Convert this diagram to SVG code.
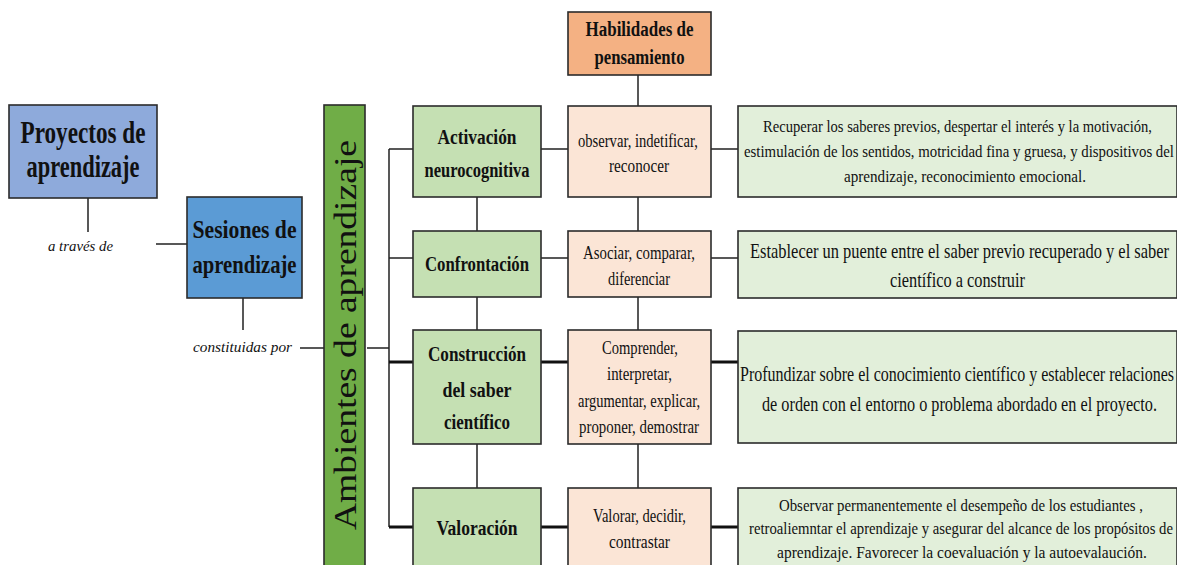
<svg xmlns="http://www.w3.org/2000/svg" width="1177" height="565" viewBox="0 0 1177 565">
<style>
text{font-family:"Liberation Serif","Times New Roman",serif;fill:#111;}
.bx{stroke:#2b2b2b;stroke-width:1.6;}
.b{font-weight:bold;}
.i{font-style:italic;font-size:15px;}
.m{text-anchor:middle;}
.c{stroke:#222;stroke-width:1.5;fill:none;}
.k{stroke:#111;stroke-width:3;fill:none;}
.p{font-size:18px;}
.g{font-size:20px;}
.r1{font-size:17px;}
.r2{font-size:21px;}
</style>
<rect width="1177" height="565" fill="#ffffff"/>
<g id="connectors">
<path class="c" d="M88 198V232M156 244H187M243 298V330M300 348H325M367 348H389M389 149V527"/>
<path class="c" d="M638 75V106M477 197V231M477 297V330M477 444V488M638 197V231M638 297V330M638 444V488"/>
<path class="c" d="M389 149H413M541 149H568M711 149H738M389 258H413M541 258H568M711 258H738"/>
<path class="k" d="M389 362H413M541 362H568M711 362H738M389 527H413M541 527H568M711 527H738"/>
</g>
<g id="proyectos">
<rect class="bx" x="9" y="105" width="148" height="93" fill="#8eaadb"/>
<text class="b m" x="83" y="143" font-size="31" textLength="125" lengthAdjust="spacingAndGlyphs">Proyectos de</text>
<text class="b m" x="83" y="177" font-size="31" textLength="113" lengthAdjust="spacingAndGlyphs">aprendizaje</text>
</g>
<g id="label-a-traves">
<text class="i" x="48" y="251" textLength="65" lengthAdjust="spacingAndGlyphs">a través de</text>
</g>
<g id="sesiones">
<rect class="bx" x="187" y="197" width="115" height="101" fill="#5b9bd5"/>
<text class="b m" x="244.5" y="238" font-size="26" textLength="104" lengthAdjust="spacingAndGlyphs">Sesiones de</text>
<text class="b m" x="244.5" y="273" font-size="26" textLength="104" lengthAdjust="spacingAndGlyphs">aprendizaje</text>
</g>
<g id="label-constituidas">
<text class="i" x="193" y="352" textLength="99" lengthAdjust="spacingAndGlyphs">constituidas por</text>
</g>
<g id="ambientes">
<rect class="bx" x="324" y="105" width="41" height="470" fill="#70ad47"/>
<text class="m" transform="translate(356,335) rotate(-90)" x="0" y="0" font-size="31" textLength="390" lengthAdjust="spacingAndGlyphs">Ambientes de aprendizaje</text>
</g>
<g id="habilidades">
<rect class="bx" x="568" y="12" width="143" height="63" fill="#f4b183"/>
<text class="b m g" x="639.5" y="36" textLength="108" lengthAdjust="spacingAndGlyphs">Habilidades de</text>
<text class="b m g" x="639.5" y="64" textLength="90" lengthAdjust="spacingAndGlyphs">pensamiento</text>
</g>
<g id="activacion">
<rect class="bx" x="413" y="106" width="128" height="91" fill="#c5e0b3"/>
<text class="b m g" x="477" y="144" textLength="79" lengthAdjust="spacingAndGlyphs">Activación</text>
<text class="b m g" x="477" y="177" textLength="105" lengthAdjust="spacingAndGlyphs">neurocognitiva</text>
</g>
<g id="hab-1">
<rect class="bx" x="568" y="106" width="143" height="91" fill="#fbe5d6"/>
<text class="m p" x="638" y="147" textLength="120" lengthAdjust="spacingAndGlyphs">observar, indetificar,</text>
<text class="m p" x="639" y="172" textLength="60" lengthAdjust="spacingAndGlyphs">reconocer</text>
</g>
<g id="desc-1">
<rect class="bx" x="738" y="106" width="439" height="91" fill="#e2efda"/>
<text class="r1" x="763" y="132" textLength="389" lengthAdjust="spacingAndGlyphs">Recuperar los saberes previos, despertar el interés y la motivación,</text>
<text class="r1" x="744" y="157" textLength="430" lengthAdjust="spacingAndGlyphs">estimulación de los sentidos, motricidad fina y gruesa, y dispositivos del</text>
<text class="r1" x="844" y="182" textLength="242" lengthAdjust="spacingAndGlyphs">aprendizaje, reconocimiento emocional.</text>
</g>
<g id="confrontacion">
<rect class="bx" x="413" y="231" width="128" height="66" fill="#c5e0b3"/>
<text class="b m g" x="477" y="271" textLength="104" lengthAdjust="spacingAndGlyphs">Confrontación</text>
</g>
<g id="hab-2">
<rect class="bx" x="568" y="231" width="143" height="66" fill="#fbe5d6"/>
<text class="m p" x="639" y="259" textLength="112" lengthAdjust="spacingAndGlyphs">Asociar, comparar,</text>
<text class="m p" x="639" y="285" textLength="62" lengthAdjust="spacingAndGlyphs">diferenciar</text>
</g>
<g id="desc-2">
<rect class="bx" x="738" y="231" width="439" height="67" fill="#e2efda"/>
<text class="r2" x="750" y="258" textLength="419" lengthAdjust="spacingAndGlyphs">Establecer un puente entre el saber previo recuperado y el saber</text>
<text class="r2" x="890" y="287" textLength="135" lengthAdjust="spacingAndGlyphs">científico a construir</text>
</g>
<g id="construccion">
<rect class="bx" x="413" y="330" width="128" height="114" fill="#c5e0b3"/>
<text class="b m g" x="477" y="361" textLength="98" lengthAdjust="spacingAndGlyphs">Construcción</text>
<text class="b m g" x="477" y="397" textLength="69" lengthAdjust="spacingAndGlyphs">del saber</text>
<text class="b m g" x="477" y="429" textLength="66" lengthAdjust="spacingAndGlyphs">científico</text>
</g>
<g id="hab-3">
<rect class="bx" x="568" y="330" width="143" height="114" fill="#fbe5d6"/>
<text class="m p" x="640" y="354" textLength="76" lengthAdjust="spacingAndGlyphs">Comprender,</text>
<text class="m p" x="639.5" y="380" textLength="65" lengthAdjust="spacingAndGlyphs">interpretar,</text>
<text class="m p" x="639" y="407" textLength="122" lengthAdjust="spacingAndGlyphs">argumentar, explicar,</text>
<text class="m p" x="639" y="433" textLength="120" lengthAdjust="spacingAndGlyphs">proponer, demostrar</text>
</g>
<g id="desc-3">
<rect class="bx" x="738" y="331" width="439" height="112" fill="#e2efda"/>
<text class="r2" x="740" y="381" textLength="434" lengthAdjust="spacingAndGlyphs">Profundizar sobre el conocimiento científico y establecer relaciones</text>
<text class="r2" x="762" y="411" textLength="395" lengthAdjust="spacingAndGlyphs">de orden con el entorno o problema abordado en el proyecto.</text>
</g>
<g id="valoracion">
<rect class="bx" x="413" y="488" width="128" height="90" fill="#c5e0b3"/>
<text class="b m g" x="477" y="535" textLength="81" lengthAdjust="spacingAndGlyphs">Valoración</text>
</g>
<g id="hab-4">
<rect class="bx" x="568" y="488" width="143" height="90" fill="#fbe5d6"/>
<text class="m p" x="639.5" y="522" textLength="93" lengthAdjust="spacingAndGlyphs">Valorar, decidir,</text>
<text class="m p" x="639.5" y="548" textLength="61" lengthAdjust="spacingAndGlyphs">contrastar</text>
</g>
<g id="desc-4">
<rect class="bx" x="738" y="488" width="439" height="90" fill="#e2efda"/>
<text class="r1" x="779" y="511" textLength="364" lengthAdjust="spacingAndGlyphs">Observar permanentemente el desempeño de los estudiantes ,</text>
<text class="r1" x="749" y="534" textLength="424" lengthAdjust="spacingAndGlyphs">retroaliemntar el aprendizaje y asegurar del alcance de los propósitos de</text>
<text class="r1" x="777" y="558" textLength="370" lengthAdjust="spacingAndGlyphs">aprendizaje. Favorecer la coevaluación y la autoevalaución.</text>
</g>
</svg>
